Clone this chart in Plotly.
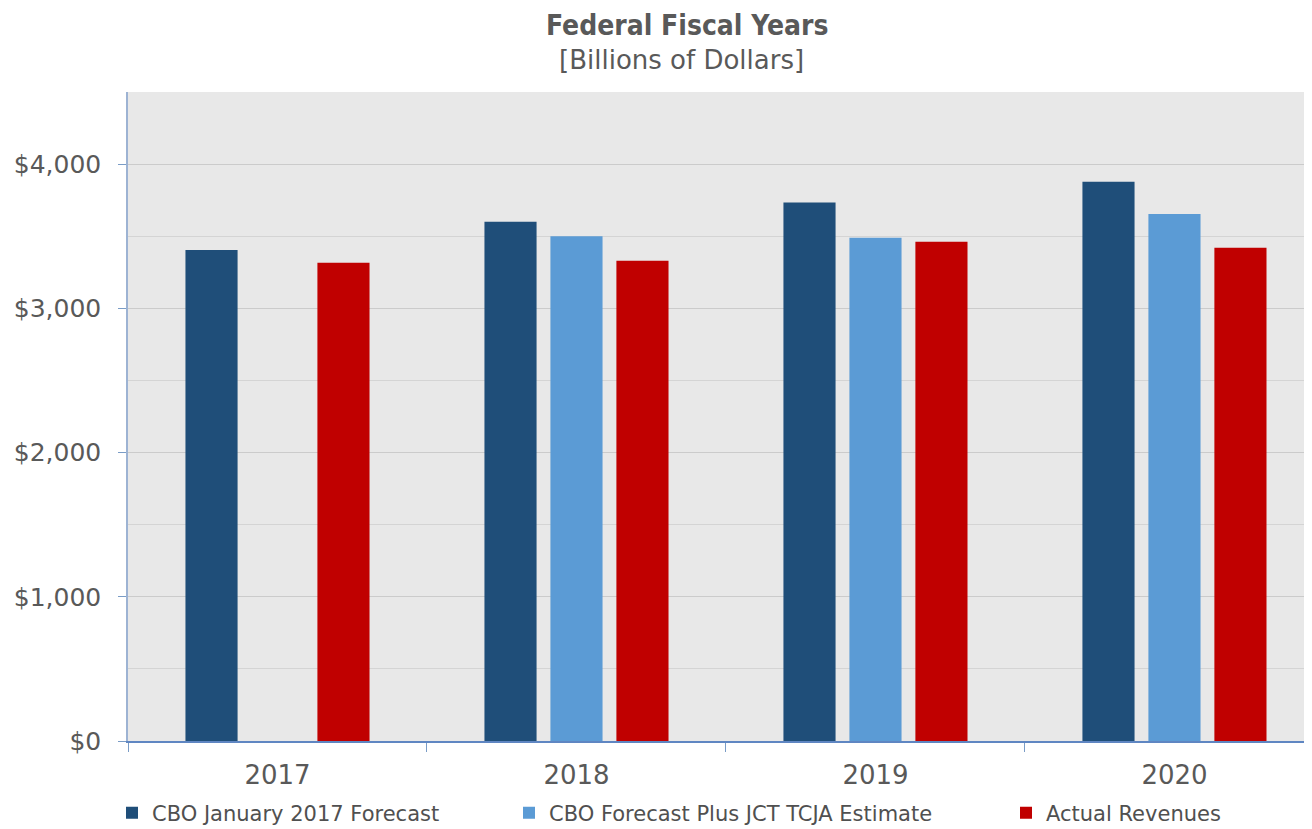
import plotly.graph_objects as go

years = ["2017", "2018", "2019", "2020"]
cbo_jan_2017 = [3404, 3600, 3733, 3878]
cbo_plus_tcja = [None, 3500, 3490, 3654]
actual_revenues = [3316, 3330, 3462, 3420]

series_names = ["CBO January 2017 Forecast", "CBO Forecast Plus JCT TCJA Estimate", "Actual Revenues"]
series_colors = ["#1F4E79", "#5B9BD5", "#C00000"]
y_tick_vals = [0, 1000, 2000, 3000, 4000]
y_tick_text = ["$0", "$1,000", "$2,000", "$3,000", "$4,000"]

FONT = "DejaVu Sans"
TITLE_FONT = "DejaVu Sans Condensed, DejaVu Sans"
OFF = 8  # page body margin of the browser
W, H = 1312 - OFF, 829 - OFF
ML, MT = 128 - OFF, 92 - OFF
PLOT_BOTTOM = 741 - OFF
MB = H - PLOT_BOTTOM
MR = 0
plot_h = H - MT - MB
plot_w = W - ML - MR

legend_ids = ["legend", "legend2", "legend3"]
legend_text_x = [152, 549, 1046]  # screen x where each legend text starts

fig = go.Figure()
for name, vals, col, lid in zip(series_names, [cbo_jan_2017, cbo_plus_tcja, actual_revenues], series_colors, legend_ids):
    fig.add_trace(go.Bar(x=years, y=vals, name=name, legend=lid,
                         marker=dict(color=col, line=dict(width=0))))

leg_common = dict(orientation="h", xref="container", xanchor="left",
                  yref="container", y=(H - (813 - OFF)) / H, yanchor="middle",
                  font=dict(size=21, color="#505050", family=FONT),
                  bgcolor="rgba(0,0,0,0)", borderwidth=0)
legends = {}
for lid, tx in zip(legend_ids, legend_text_x):
    legends[lid] = dict(leg_common, x=(tx - OFF - 40) / W)

fig.update_layout(
    width=W, height=H,
    margin=dict(l=ML, r=MR, t=MT, b=MB, autoexpand=False),
    paper_bgcolor="white", plot_bgcolor="#E8E8E8",
    barmode="group", bargap=0.338, bargroupgap=0.21,
    font=dict(family=FONT, color="#595959"),
    showlegend=True,
    annotations=[
        dict(text="<b>Federal Fiscal Years</b>", x=(687 - OFF - ML) / plot_w, xref="paper", xanchor="center",
             y=(PLOT_BOTTOM - (25 - OFF)) / plot_h, yref="paper", yanchor="middle",
             showarrow=False, font=dict(size=28, color="#595959", family=TITLE_FONT)),
        dict(text="[Billions of Dollars]", x=(681 - OFF - ML) / plot_w, xref="paper", xanchor="center",
             y=(PLOT_BOTTOM - (60 - OFF)) / plot_h, yref="paper", yanchor="middle",
             showarrow=False, font=dict(size=26, color="#595959", family=FONT)),
    ],
    **legends,
)

fig.update_xaxes(
    type="category", range=[-0.5, 3.46],
    showline=True, linecolor="#5F86C2", linewidth=1.5,
    ticks="outside", tickson="boundaries", ticklen=9, tickcolor="#7A9CC6",
    tickfont=dict(size=26, color="#595959", family=FONT), ticklabelstandoff=10,
    showgrid=False, automargin=False,
)
fig.update_yaxes(
    range=[0, 4500],
    tickvals=y_tick_vals, ticktext=y_tick_text,
    tickfont=dict(size=25, color="#595959", family=FONT), ticklabelstandoff=12,
    ticks="outside", ticklen=8, tickcolor="#7A9CC6",
    showline=True, linecolor="#9DB3D3", linewidth=1.5,
    showgrid=True, gridcolor="#CBCBCB", gridwidth=1,
    minor=dict(dtick=500, showgrid=True, gridcolor="#D4D4D4", gridwidth=1, ticks=""),
    zeroline=False, automargin=False,
)

fig.write_html("out.html")
